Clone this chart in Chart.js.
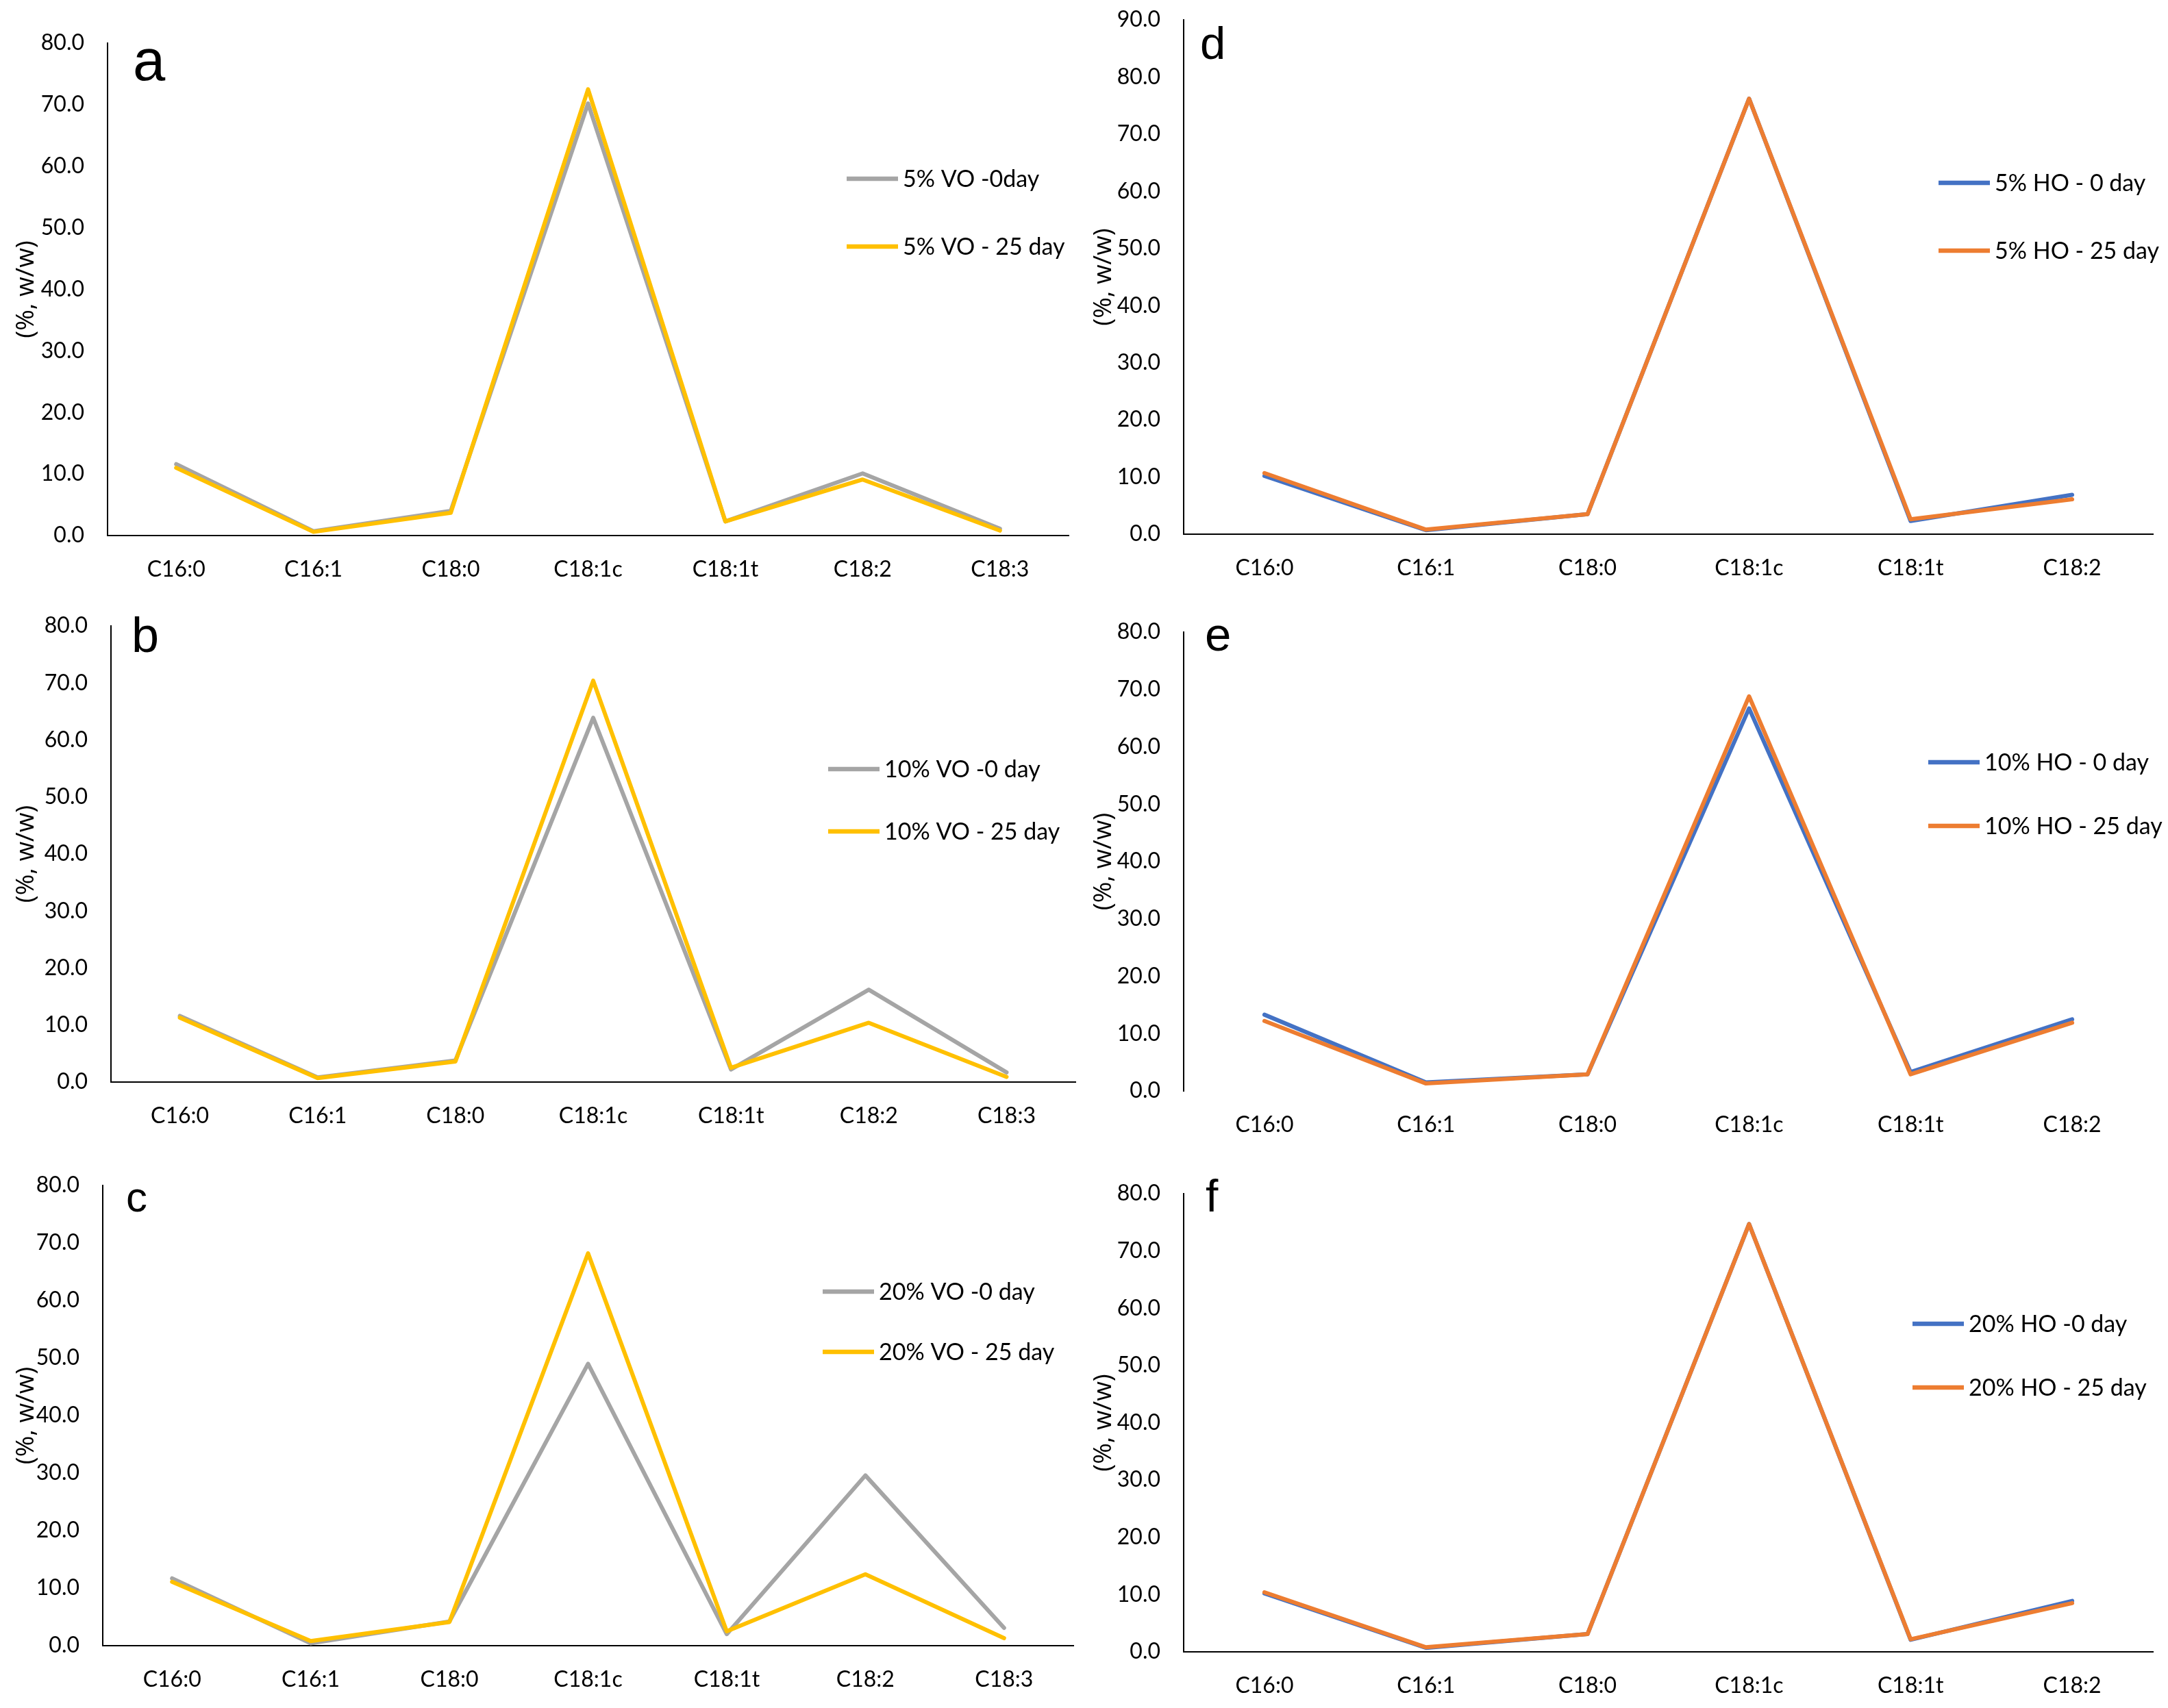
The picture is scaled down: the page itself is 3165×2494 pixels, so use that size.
<!DOCTYPE html>
<html>
<head>
<meta charset="utf-8">
<script src="https://cdn.jsdelivr.net/npm/chart.js@4.4.1/dist/chart.umd.min.js"></script>
<style>
  html, body { margin:0; padding:0; background:#fff; }
  body { width:3165px; height:2494px; position:relative; overflow:hidden; }
  canvas { position:absolute; }
</style>
</head>
<body>
<script>
// ---- data ----
const catsVO = ['C16:0','C16:1','C18:0','C18:1c','C18:1t','C18:2','C18:3'];
const catsHO = ['C16:0','C16:1','C18:0','C18:1c','C18:1t','C18:2'];

const vo5_0   = [11.6, 0.7, 4.0, 70.2, 2.3, 10.1, 1.1];
const vo5_25  = [11.0, 0.6, 3.7, 72.5, 2.3,  9.1, 0.8];
const vo10_0  = [11.6, 0.8, 3.8, 63.9, 2.2, 16.2, 1.7];
const vo10_25 = [11.3, 0.7, 3.6, 70.4, 2.5, 10.4, 0.9];
const vo20_0  = [11.7, 0.4, 4.2, 49.0, 2.0, 29.6, 3.1];
const vo20_25 = [11.1, 0.8, 4.1, 68.2, 2.5, 12.4, 1.3];

const ho5_0   = [10.2, 0.7, 3.5, 76.2, 2.3, 6.9];
const ho5_25  = [10.7, 0.8, 3.5, 76.2, 2.6, 6.1];
const ho10_0  = [13.3, 1.5, 2.9, 66.7, 3.3, 12.5];
const ho10_25 = [12.2, 1.3, 2.9, 68.8, 2.9, 11.9];
const ho20_0  = [10.2, 0.7, 3.1, 74.7, 2.1, 8.9];
const ho20_25 = [10.4, 0.8, 3.1, 74.7, 2.2, 8.5];

const yMaxVO = 80;
const yMaxHO5 = 90;
const yMaxHO = 80;
const yStep = 10;
const yTitle = '(%, w/w)';

const GRAY = '#A5A5A5', YELLOW = '#FFC000', BLUE = '#4472C4', ORANGE = '#ED7D31';

// ---- layout (page coordinates) ----
const panels = [
  {letter:'a', cx:0,    cy:0,    cw:1580, ch:860, padT:63, padR:20, yW:157, xH:78, ymax:yMaxVO,  cats:catsVO, s0:vo5_0,  s1:vo5_25,  l0:'5% VO -0day',   l1:'5% VO - 25 day',  c0:GRAY, c1:YELLOW, lx:194,  ly:117,  ls:85, legX:1236, legY:[261,360],   titlePad:16, xBorder:true},
  {letter:'b', cx:0,    cy:860,  cw:1580, ch:820, padT:54, padR:10, yW:162, xH:100,ymax:yMaxVO,  cats:catsVO, s0:vo10_0, s1:vo10_25, l0:'10% VO -0 day', l1:'10% VO - 25 day', c0:GRAY, c1:YELLOW, lx:192,  ly:952,  ls:72, legX:1209, legY:[1123,1214], titlePad:16, xBorder:true},
  {letter:'c', cx:0,    cy:1680, cw:1580, ch:814, padT:51, padR:13, yW:150, xH:91, ymax:yMaxVO,  cats:catsVO, s0:vo20_0, s1:vo20_25, l0:'20% VO -0 day', l1:'20% VO - 25 day', c0:GRAY, c1:YELLOW, lx:184,  ly:1769, ls:62, legX:1201, legY:[1886,1974], titlePad:16, xBorder:true},
  {letter:'d', cx:1580, cy:0,    cw:1585, ch:860, padT:29, padR:22, yW:148, xH:80, ymax:yMaxHO5, cats:catsHO, s0:ho5_0,  s1:ho5_25,  l0:'5% HO - 0 day',  l1:'5% HO - 25 day',  c0:BLUE, c1:ORANGE, lx:1752, ly:86,   ls:67, legX:2830, legY:[267,366],   titlePad:9, xBorder:true},
  {letter:'e', cx:1580, cy:860,  cw:1585, ch:820, padT:63, padR:22, yW:148, xH:87, ymax:yMaxHO,  cats:catsHO, s0:ho10_0, s1:ho10_25, l0:'10% HO - 0 day', l1:'10% HO - 25 day', c0:BLUE, c1:ORANGE, lx:1759, ly:950,  ls:69, legX:2815, legY:[1113,1206], titlePad:9, xBorder:false},
  {letter:'f', cx:1580, cy:1680, cw:1585, ch:814, padT:63, padR:22, yW:148, xH:82, ymax:yMaxHO,  cats:catsHO, s0:ho20_0, s1:ho20_25, l0:'20% HO -0 day',  l1:'20% HO - 25 day', c0:BLUE, c1:ORANGE, lx:1760, ly:1769, ls:66, legX:2792, legY:[1933,2026], titlePad:9, xBorder:true},
];

const annot = {
  id: 'annot',
  afterDraw(chart, args, o) {
    const ctx = chart.ctx;
    ctx.save();
    // panel letter
    ctx.fillStyle = '#000';
    ctx.textAlign = 'left';
    ctx.textBaseline = 'alphabetic';
    ctx.font = o.ls + 'px "Liberation Sans", Arial, sans-serif';
    ctx.fillText(o.letter, o.lx - o.cx, o.ly - o.cy);
    // legend
    ctx.font = '34px Lato, "Open Sans", sans-serif';
    ctx.textBaseline = 'middle';
    chart.data.datasets.forEach((ds, i) => {
      const y = o.legY[i] - o.cy;
      const x = o.legX - o.cx;
      ctx.strokeStyle = ds.borderColor;
      ctx.lineWidth = 6.5;
      ctx.lineCap = 'butt';
      ctx.beginPath();
      ctx.moveTo(x, y);
      ctx.lineTo(x + 75, y);
      ctx.stroke();
      ctx.fillStyle = '#000';
      ctx.fillText(ds.label, x + 82, y + 1);
    });
    ctx.restore();
  }
};

panels.forEach(p => {
  const cv = document.createElement('canvas');
  cv.width = p.cw; cv.height = p.ch;
  cv.style.left = p.cx + 'px'; cv.style.top = p.cy + 'px';
  cv.style.width = p.cw + 'px'; cv.style.height = p.ch + 'px';
  document.body.appendChild(cv);

  new Chart(cv.getContext('2d'), {
    type: 'line',
    data: {
      labels: p.cats,
      datasets: [
        {label: p.l0, data: p.s0, borderColor: p.c0, backgroundColor: p.c0, order: 1},
        {label: p.l1, data: p.s1, borderColor: p.c1, backgroundColor: p.c1, order: 0}
      ]
    },
    options: {
      responsive: false,
      animation: false,
      devicePixelRatio: 1,
      layout: {padding: {top: p.padT, right: p.padR, bottom: 0, left: 0}},
      elements: {
        point: {radius: 0, hoverRadius: 0},
        line: {tension: 0, borderWidth: 6, borderJoinStyle: 'round', borderCapStyle: 'round', fill: false}
      },
      plugins: {
        legend: {display: false},
        tooltip: {enabled: false},
        annot: {letter: p.letter, cx: p.cx, cy: p.cy, lx: p.lx, ly: p.ly, ls: p.ls, legX: p.legX, legY: p.legY}
      },
      scales: {
        x: {
          type: 'category',
          offset: true,
          grid: {display: false, drawTicks: false},
          border: {display: p.xBorder, color: '#000', width: 2},
          ticks: {font: {family: 'Lato', size: 32}, color: '#000', padding: 30, maxRotation: 0, autoSkip: false},
          afterFit(s) { s.height = p.xH; }
        },
        y: {
          min: 0, max: p.ymax,
          grid: {display: false, drawTicks: false},
          border: {display: true, color: '#000', width: 2},
          ticks: {stepSize: yStep, callback: v => Number(v).toFixed(1), font: {family: 'Lato', size: 32}, color: '#000', padding: 34},
          title: {display: true, text: yTitle, font: {family: 'Open Sans', size: 37}, color: '#000', padding: {top: p.titlePad, bottom: 0}},
          afterFit(s) { s.width = p.yW; s.paddingTop = 20; s.paddingBottom = 20; }
        }
      }
    },
    plugins: [annot]
  });
});
</script>
</body>
</html>
